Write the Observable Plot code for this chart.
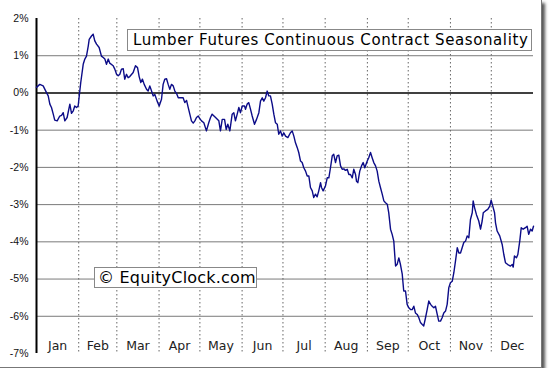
<!DOCTYPE html>
<html>
<head>
<meta charset="utf-8">
<script src="https://cdn.jsdelivr.net/npm/d3@7"></script>
<script src="https://cdn.jsdelivr.net/npm/@observablehq/plot@0.6"></script>
<style>
  html, body { margin: 0; padding: 0; background: #fff; }
  #frame {
    position: relative; width: 541px; height: 367px;
    border-right: 1px solid #777; border-bottom: 1px solid #777;
    box-shadow: 3px 3px 3px #555; background: #fff;
  }
  #frame svg { position: absolute; left: 0; top: 0; }
  .box {
    position: absolute; background: #fff; border: 1px solid #888;
    font-family: "DejaVu Sans", Verdana, sans-serif; color: #000;
    white-space: nowrap; box-sizing: border-box;
  }
  #title { left: 127px; top: 29px; width: 405px; height: 22px; font-size: 15px; letter-spacing: 0.6px; line-height: 20px; padding-left: 5px; }
  #credit { left: 94px; top: 267px; width: 163px; height: 21px; font-size: 16px; letter-spacing: 0.2px; line-height: 19px; padding-left: 3px; }
</style>
</head>
<body>
<div id="frame"></div>
<script>
const titleText = "Lumber Futures Continuous Contract Seasonality";
const creditText = "© EquityClock.com";
const monthNames = ["Jan","Feb","Mar","Apr","May","Jun","Jul","Aug","Sep","Oct","Nov","Dec"];
const monthStarts = [0,31,59,90,120,151,181,212,243,273,304,334,365];
const yTicks = [2,1,0,-1,-2,-3,-4,-5,-6,-7];
const gridLines = [1,-1,-2,-3,-4,-5,-6];

const days = [0,2.4,4.9,6.8,8.6,9.8,11.0,12.3,13.4,15.2,17.1,18.4,19.6,20.8,22.5,24.5,25.7,27.0,28.1,29.4,30.6,31.4,32.5,34.3,35.5,36.7,38.0,38.7,40.4,41.6,42.8,44.1,46.0,47.7,49.0,50.2,51.4,52.7,53.8,56.3,57.5,58.8,60.0,61.2,62.4,63.7,64.8,66.1,67.3,68.5,71.0,72.7,74.2,75.4,76.6,77.8,79.1,80.8,82.0,83.2,84.5,85.7,86.9,88.6,90.1,91.8,93.0,94.2,95.5,96.7,97.9,99.1,100.4,101.6,102.8,104.1,105.8,107.7,108.9,110.2,111.4,112.6,113.8,115.1,116.3,117.5,118.8,119.9,121.2,122.9,124.8,126.5,127.8,129.0,131.5,133.9,135.1,136.4,138.1,139.3,140.5,142.0,143.7,144.9,146.1,147.4,148.6,149.8,151.1,152.8,153.5,154.7,155.9,157.2,158.4,160.1,161.6,163.3,164.5,165.8,166.9,168.2,169.4,170.6,171.8,173.1,174.3,175.5,176.8,177.9,179.2,180.4,181.6,182.9,184.6,186.5,187.8,189.0,190.2,191.5,192.6,193.9,195.1,196.3,197.6,198.8,200.0,201.2,202.5,203.6,204.9,206.1,207.3,208.6,209.3,210.5,212.2,213.5,214.7,215.9,217.2,218.3,219.6,220.8,222.0,223.3,224.5,225.7,226.9,228.2,229.4,230.6,231.9,233.0,234.3,235.0,236.0,237.4,238.7,239.9,241.1,242.9,244.0,245.3,246.5,247.7,249.0,250.2,251.4,252.6,253.9,255.1,256.3,257.6,258.7,260.0,261.2,262.4,262.9,263.7,264.9,266.1,267.3,268.6,269.7,271.0,272.2,273.4,274.7,275.9,277.1,278.3,279.6,280.8,282.0,283.3,284.4,285.7,286.9,288.1,289.4,290.6,291.8,293.0,294.3,295.4,296.7,297.9,299.1,300.4,301.6,302.8,304.0,305.3,306.5,307.7,309.0,310.2,311.4,312.6,313.8,315.1,316.3,317.5,318.7,320.0,320.7,321.7,323.1,324.8,326.1,327.3,328.1,329.7,331.4,332.9,333.9,335.1,336.4,337.1,338.3,340.2,342.0,343.2,344.4,346.1,348.1,349.4,350.1,351.0,352.5,353.5,354.9,356.0,357.4,359.1,360.3,361.5,362.8,364.0,365.0];

const values = [0.15,0.23,0.19,0.05,-0.08,-0.30,-0.39,-0.57,-0.73,-0.75,-0.62,-0.60,-0.53,-0.75,-0.66,-0.30,-0.55,-0.48,-0.35,-0.39,-0.35,-0.08,0.28,0.77,0.91,0.99,1.26,1.44,1.53,1.58,1.40,1.31,1.22,0.99,0.95,0.91,0.77,0.91,0.80,0.73,0.64,0.50,0.46,0.50,0.64,0.65,0.37,0.50,0.41,0.44,0.55,0.73,0.68,0.44,0.28,0.37,0.23,0.10,0.05,0.19,0.05,-0.08,-0.04,-0.22,-0.35,-0.17,0.23,0.37,0.38,0.23,0.10,0.23,0.19,0.05,-0.01,-0.13,-0.13,-0.13,-0.26,-0.20,-0.39,-0.57,-0.75,-0.81,-0.75,-0.66,-0.62,-0.69,-0.75,-0.80,-1.02,-0.80,-0.66,-0.57,-0.66,-0.75,-1.02,-0.71,-0.71,-0.98,-0.84,-1.02,-0.57,-0.53,-0.75,-0.57,-0.39,-0.53,-0.35,-0.35,-0.44,-0.30,-0.26,-0.44,-0.62,-0.84,-0.71,-0.53,-0.22,-0.13,-0.22,-0.13,0.05,-0.08,-0.08,-0.30,-0.57,-0.80,-0.84,-1.11,-1.02,-1.16,-1.07,-1.16,-1.20,-1.07,-1.02,-1.16,-1.34,-1.47,-1.60,-1.83,-1.87,-2.01,-2.10,-2.23,-2.23,-2.54,-2.63,-2.81,-2.72,-2.79,-2.63,-2.41,-2.54,-2.63,-2.50,-2.28,-2.28,-2.01,-1.69,-1.65,-1.87,-1.69,-1.67,-1.96,-2.05,-2.04,-2.08,-2.05,-2.19,-2.19,-2.28,-2.05,-2.19,-2.37,-2.41,-2.10,-1.96,-1.87,-2.01,-1.83,-1.74,-1.60,-1.74,-1.87,-1.96,-2.10,-2.37,-2.54,-2.72,-2.90,-2.95,-2.99,-3.22,-3.66,-3.80,-3.98,-4.25,-4.65,-4.60,-4.43,-4.61,-4.87,-5.32,-5.32,-5.68,-5.77,-5.82,-5.82,-5.73,-5.91,-5.95,-6.04,-6.17,-6.22,-6.26,-6.04,-5.82,-5.59,-5.68,-5.73,-5.77,-5.73,-5.95,-6.13,-6.13,-6.04,-5.91,-5.86,-5.68,-5.23,-5.10,-5.06,-4.83,-4.52,-4.16,-4.30,-4.30,-4.16,-4.02,-3.98,-3.84,-3.89,-3.40,-3.22,-2.90,-3.08,-3.27,-3.44,-3.66,-3.44,-3.22,-3.17,-3.13,-3.04,-2.88,-3.04,-3.22,-3.49,-3.71,-3.84,-4.07,-4.34,-4.56,-4.61,-4.65,-4.61,-4.68,-4.38,-4.43,-4.34,-3.98,-3.62,-3.66,-3.62,-3.58,-3.80,-3.66,-3.71,-3.58];

const series = days.map((d, i) => ({day: d, value: values[i]}));
const months = monthNames.map((m, i) => ({name: m, mid: (monthStarts[i] + monthStarts[i + 1]) / 2}));

const chart = Plot.plot({
  width: 541,
  height: 367,
  marginLeft: 36,
  marginRight: 8,
  marginTop: 18,
  marginBottom: 14,
  style: {background: "transparent", overflow: "visible"},
  x: {domain: [0, 365], axis: null},
  y: {domain: [-7, 2]},
  marks: [
    Plot.ruleY(gridLines, {stroke: "#7a7a7a", strokeWidth: 1}),
    Plot.ruleX(monthStarts.slice(1, 12), {stroke: "#666", strokeWidth: 1, strokeDasharray: "1.5,2.5"}),
    Plot.ruleY([0], {stroke: "#000", strokeWidth: 1.5}),
    Plot.ruleX([0], {stroke: "#000", strokeWidth: 2}),
    Plot.line(series, {x: "day", y: "value", stroke: "#0c0c88", strokeWidth: 1.4}),
    Plot.text(months, {x: "mid", y: -6.8, text: "name", fontSize: 12.5, fill: "#222", fontFamily: "DejaVu Sans"}),
    Plot.axisY({ticks: yTicks, tickFormat: d => d + "%", tickSize: 0, tickPadding: 8, fontSize: 10.5, fontFamily: "Liberation Sans, Arial", label: null, fill: "#111"})
  ]
});

const frame = document.getElementById("frame");
frame.appendChild(chart);
const t = document.createElement("div");
t.id = "title"; t.className = "box"; t.textContent = titleText;
frame.appendChild(t);
const c = document.createElement("div");
c.id = "credit"; c.className = "box"; c.textContent = creditText;
frame.appendChild(c);
</script>
</body>
</html>
